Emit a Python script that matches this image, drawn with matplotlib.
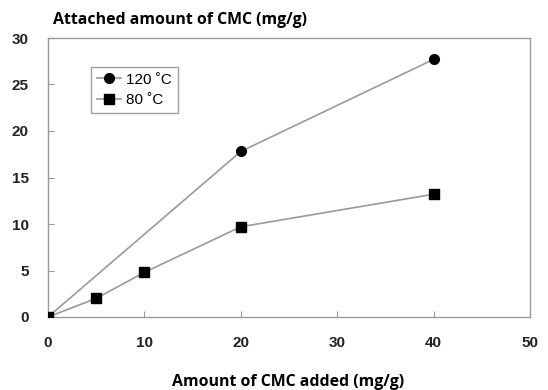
import matplotlib
matplotlib.use("Agg")
import matplotlib.pyplot as plt

x_120 = [0, 20, 40]
y_120 = [0, 17.8, 27.7]
x_80 = [0, 5, 10, 20, 40]
y_80 = [0, 2.0, 4.8, 9.7, 13.2]
x_ticks = [0, 10, 20, 30, 40, 50]
y_ticks = [0, 5, 10, 15, 20, 25, 30]
labels = ["120 ˚C", "80 ˚C"]

fig = plt.figure(figsize=(5.48, 3.9), dpi=100)
ax = fig.add_axes([48/548, 1-317/390, (530-48)/548, (317-38)/390])

ax.plot(x_120, y_120, color="#9a9a9a", lw=1.2, marker="o", ms=7,
        mfc="black", mec="black", label=labels[0], zorder=3)
ax.plot(x_80, y_80, color="#9a9a9a", lw=1.2, marker="s", ms=6.5,
        mfc="black", mec="black", label=labels[1], zorder=3)

ax.set_xlim(0, 50)
ax.set_ylim(0, 30)
tick_font = {"family": "Liberation Sans", "weight": "bold", "size": 11}
ax.set_xticks(x_ticks)
ax.set_xticklabels([str(v) for v in x_ticks], fontdict=tick_font, color="#222222")
ax.set_yticks(y_ticks)
ax.set_yticklabels([str(v) for v in y_ticks], fontdict=tick_font, color="#222222")
ax.tick_params(direction="in", length=4, color="#999999")
ax.tick_params(axis="x", pad=14)
ax.tick_params(axis="y", pad=14)
for s in ax.spines.values():
    s.set_color("#999999")
    s.set_linewidth(1.0)

leg = ax.legend(loc="upper left", bbox_to_anchor=((83-48)/482, (317-59)/279),
                frameon=True, fancybox=False, edgecolor="#888888",
                handlelength=1.6, handletextpad=0.3, borderpad=0.4,
                labelspacing=0.4, prop={"family": "Liberation Sans", "size": 11})
leg.get_frame().set_linewidth(1.0)

fig.text(53/548, 1-20/390, "Attached amount of CMC (mg/g)", fontsize=11.4,
         fontweight="bold", family="Open Sans", va="center", ha="left")
fig.text(288/548, 1-382/390, "Amount of CMC added (mg/g)", fontsize=11.4,
         fontweight="bold", family="Open Sans", va="center", ha="center")

fig.savefig("out.png", dpi=100)
